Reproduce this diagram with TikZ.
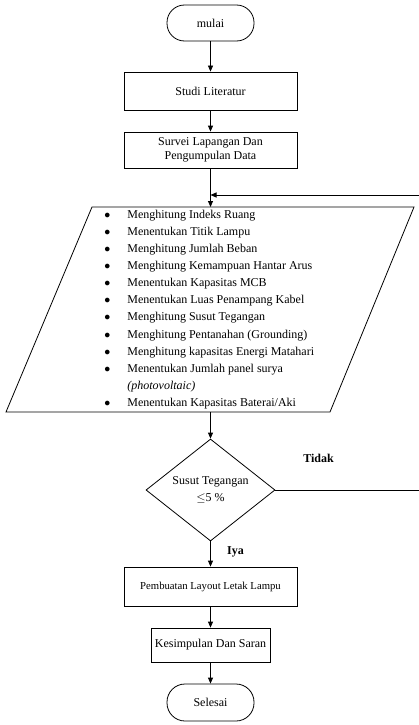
\documentclass[tikz,border=0pt]{standalone}
\usepackage{fontspec}
\setmainfont{Liberation Serif}
\usetikzlibrary{arrows.meta,shapes.geometric}
\begin{document}
\begin{tikzpicture}[x=1pt,y=-1pt,
  line width=0.8pt,
  arr/.style={-{Triangle[length=6pt,width=5pt]}},
  procbox/.style={draw,rectangle,minimum width=173pt,minimum height=38pt,inner sep=2pt,align=center,font=\fontsize{12}{14}\selectfont},
  term/.style={draw,rectangle,rounded corners=17.5pt,minimum width=87pt,minimum height=36pt,font=\fontsize{12}{14}\selectfont},
  decision/.style={draw,diamond,aspect=1.3,minimum width=129pt,minimum height=102pt,inner sep=0pt,align=center,font=\fontsize{12}{17}\selectfont},
  lbl/.style={font=\fontsize{12}{14}\selectfont\bfseries}
]
\useasboundingbox (0,0) rectangle (419,725);
\fill[white] (0,0) rectangle (419,725);

\node[term] (mulai) at (210.5,23) {mulai};
\node[procbox] (studi) at (210.5,91) {Studi Literatur};
\node[procbox,minimum height=36pt] (survei) at (210.5,150) {Survei Lapangan Dan\\Pengumpulan Data};

\coordinate (pTL) at (92,207);
\coordinate (pTR) at (414,207);
\coordinate (pBR) at (330,412);
\coordinate (pBL) at (6,412);
\draw (pTL) -- (pTR) -- (pBR) -- (pBL) -- cycle;
\coordinate (pTop) at (210.5,207);
\coordinate (pBot) at (210.5,412);
\node[anchor=north west,inner sep=0pt,font=\fontsize{12}{17.1}\selectfont] (list) at (104,206) {%
\begin{tabular}{@{}p{23pt}@{}l@{}}
$\bullet$ & Menghitung Indeks Ruang\\
$\bullet$ & Menentukan Titik Lampu\\
$\bullet$ & Menghitung Jumlah Beban\\
$\bullet$ & Menghitung Kemampuan Hantar Arus\\
$\bullet$ & Menentukan Kapasitas MCB\\
$\bullet$ & Menentukan Luas Penampang Kabel\\
$\bullet$ & Menghitung Susut Tegangan\\
$\bullet$ & Menghitung Pentanahan (Grounding)\\
$\bullet$ & Menghitung kapasitas Energi Matahari\\
$\bullet$ & Menentukan Jumlah panel surya\\
 & \textit{(photovoltaic)}\\
$\bullet$ & Menentukan Kapasitas Baterai/Aki
\end{tabular}};

\node[decision] (dec) at (210.5,490) {Susut Tegangan\\$\leq$5 \%};
\node[procbox,minimum height=39pt,font=\fontsize{10.7}{13}\selectfont] (layout) at (210.5,586.5) {Pembuatan Layout Letak Lampu};
\node[procbox,minimum width=119pt,minimum height=34pt] (kes) at (210.5,645) {Kesimpulan Dan Saran};
\node[term,minimum height=37pt,rounded corners=18pt] (selesai) at (210.5,702.5) {Selesai};

\node[lbl] (tidak) at (318.5,458) {Tidak};
\node[lbl] (iya) at (235.5,552) {Iya};

\draw[arr] (mulai) -- (studi);
\draw[arr] (studi) -- (survei);
\draw[arr] (survei) -- (pTop);
\draw[arr] (pBot) -- (dec);
\draw[arr] (dec) -- (layout);
\draw[arr] (layout) -- (kes);
\draw[arr] (kes) -- (selesai);

\coordinate (fbR) at (419,490);
\coordinate (fbTop) at (419,195);
\coordinate (fbJoin) at (210.5,195);
\draw[arr] (dec.east) -- (fbR) -- (fbTop) -- (fbJoin);
\end{tikzpicture}
\end{document}
